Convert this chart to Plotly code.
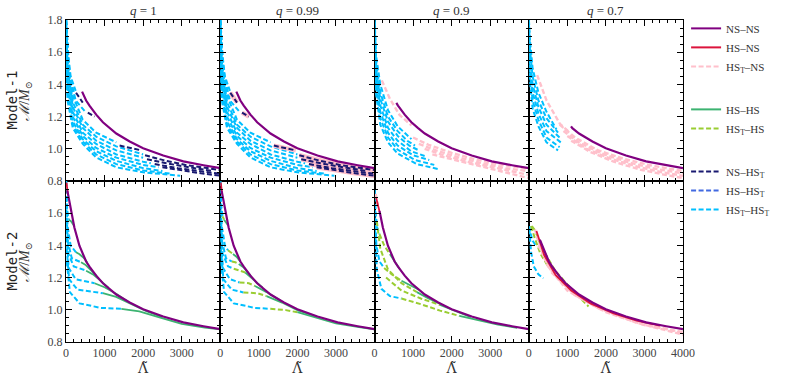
import plotly.graph_objects as go
from plotly.subplots import make_subplots

q_values = ["1", "0.99", "0.9", "0.7"]
row_names = ["Model-1", "Model-2"]
x_ticks = [0, 1000, 2000, 3000, 4000]
y_ticks = [0.8, 1.0, 1.2, 1.4, 1.6, 1.8]

# NS-NS (purple), same hadronic curve in every panel, cut at a start point
nsns_lam = [35, 70, 130, 217, 348, 417, 522, 609, 783, 957, 1131, 1304, 1652, 2000, 2522, 3043, 3565, 4000]
nsns_mc = [1.74, 1.70, 1.614, 1.511, 1.398, 1.355, 1.300, 1.268, 1.212, 1.165, 1.128, 1.095, 1.045, 1.004, 0.958, 0.922, 0.898, 0.880]
nsns_m1_start_lam = [417, 417, 566, 1096]
nsns_m1_start_mc = [1.355, 1.355, 1.285, 1.14]
nsns_m2_start_lam = [35, 35, 130, 288]
nsns_m2_start_mc = [1.74, 1.74, 1.614, 1.435]

# ---- Model-1, q = 1 (also used for q = 0.99) ----
m1_q1_hsths_lam = [[5, 50, 120, 250], [5, 80, 250, 500],
                   [5, 40, 175, 435, 783, 1305],
                   [5, 40, 175, 435, 783, 1305, 2000],
                   [5, 40, 175, 435, 783, 1305, 2000],
                   [5, 40, 175, 435, 783, 1305, 2000, 2200],
                   [5, 40, 175, 435, 783, 1305, 2000, 2400],
                   [5, 40, 175, 435, 783, 1305, 2000, 2500],
                   [5, 40, 175, 435, 783, 1305, 2000, 2700],
                   [5, 40, 175, 435, 783, 1305, 2000, 2960]]
m1_q1_hsths_mc = [[1.80, 1.60, 1.45, 1.36], [1.80, 1.48, 1.30, 1.23],
                  [1.80, 1.58, 1.33, 1.18, 1.10, 1.04],
                  [1.79, 1.54, 1.29, 1.15, 1.075, 1.015, 0.965],
                  [1.77, 1.50, 1.26, 1.13, 1.05, 0.99, 0.945],
                  [1.74, 1.46, 1.23, 1.10, 1.03, 0.965, 0.92, 0.91],
                  [1.71, 1.42, 1.20, 1.08, 1.005, 0.945, 0.90, 0.885],
                  [1.67, 1.38, 1.17, 1.06, 0.985, 0.925, 0.88, 0.862],
                  [1.63, 1.34, 1.15, 1.045, 0.965, 0.905, 0.865, 0.846],
                  [1.58, 1.30, 1.13, 1.03, 0.946, 0.885, 0.854, 0.833]]
m1_q1_nshst_lam = [[261, 350, 435], [565, 650, 740], [1390, 1650, 1960],
                   [2050, 2600, 3100, 3600, 4000], [2100, 2600, 3200, 3800],
                   [2300, 2900, 3500, 4000], [2500, 3000, 3500, 4000]]
m1_q1_nshst_mc = [[1.348, 1.315, 1.287], [1.225, 1.213, 1.20], [1.02, 1.005, 0.99],
                  [0.96, 0.925, 0.90, 0.88, 0.868], [0.935, 0.91, 0.885, 0.862],
                  [0.905, 0.88, 0.86, 0.845], [0.885, 0.865, 0.848, 0.833]]

# ---- Model-1, q = 0.9 ----
m1_q09_hsths_lam = [[5, 40, 150, 350, 600, 957],
                    [5, 40, 150, 350, 600, 850, 1050],
                    [5, 40, 150, 350, 600, 900, 1150],
                    [5, 40, 150, 350, 600, 950, 1300],
                    [5, 40, 150, 350, 600, 1000, 1420],
                    [5, 40, 150, 350, 600, 1050, 1550],
                    [5, 40, 150, 350, 600, 1100, 1650]]
m1_q09_hsths_mc = [[1.80, 1.58, 1.40, 1.24, 1.14, 1.06],
                   [1.79, 1.54, 1.35, 1.20, 1.11, 1.05, 1.02],
                   [1.77, 1.50, 1.31, 1.17, 1.08, 1.02, 0.99],
                   [1.74, 1.46, 1.27, 1.13, 1.05, 0.985, 0.955],
                   [1.71, 1.42, 1.23, 1.10, 1.02, 0.96, 0.93],
                   [1.67, 1.38, 1.19, 1.07, 0.995, 0.93, 0.90],
                   [1.63, 1.34, 1.15, 1.04, 0.97, 0.905, 0.874]]
m1_q09_hstns_lam = [[190, 400, 650, 960],
                    [1000, 1400, 2000, 2600, 3200, 4000],
                    [1150, 1600, 2200, 2800, 3400, 4000],
                    [1300, 1800, 2400, 3000, 3500, 4000],
                    [1500, 2000, 2600, 3200, 3600, 4000]]
m1_q09_hstns_mc = [[1.425, 1.31, 1.21, 1.145],
                   [1.07, 1.025, 0.975, 0.935, 0.905, 0.875],
                   [1.03, 0.99, 0.945, 0.91, 0.88, 0.86],
                   [1.0, 0.96, 0.92, 0.89, 0.862, 0.838],
                   [0.965, 0.935, 0.90, 0.865, 0.843, 0.818]]

# ---- Model-1, q = 0.7 ----
m1_q07_hsths_lam = [[5, 30, 100, 250, 460, 720],
                    [5, 30, 100, 250, 460, 760],
                    [5, 30, 100, 250, 460, 800],
                    [5, 30, 100, 250, 460, 830],
                    [5, 30, 100, 250, 460, 800],
                    [5, 30, 100, 250, 460, 760]]
m1_q07_hsths_mc = [[1.80, 1.68, 1.50, 1.35, 1.23, 1.12],
                   [1.78, 1.62, 1.45, 1.30, 1.19, 1.10],
                   [1.75, 1.57, 1.40, 1.26, 1.15, 1.07],
                   [1.71, 1.52, 1.35, 1.22, 1.11, 1.04],
                   [1.66, 1.47, 1.30, 1.18, 1.07, 1.01],
                   [1.60, 1.42, 1.25, 1.14, 1.04, 0.99]]
m1_q07_hstns_lam = [[218, 461, 809, 1070],
                    [800, 1200, 1800, 2500, 3200, 4000],
                    [900, 1300, 1900, 2600, 3300, 4000],
                    [1000, 1500, 2100, 2800, 3400, 4000],
                    [1100, 1600, 2200, 2900, 3500, 4000]]
m1_q07_hstns_mc = [[1.458, 1.30, 1.155, 1.10],
                   [1.15, 1.07, 0.99, 0.935, 0.895, 0.862],
                   [1.11, 1.04, 0.97, 0.915, 0.875, 0.848],
                   [1.08, 1.00, 0.94, 0.89, 0.857, 0.832],
                   [1.05, 0.98, 0.92, 0.87, 0.84, 0.818]]

# ---- Model-2, q = 1 ----
m2_q1_hsths_lam = [[8, 30, 70], [10, 40, 120, 260], [10, 50, 150, 390], [12, 60, 200, 522],
                   [15, 70, 250, 740], [18, 80, 300, 957], [20, 100, 350, 900, 1435]]
m2_q1_hsths_mc = [[1.80, 1.62, 1.56], [1.70, 1.52, 1.40, 1.357], [1.62, 1.42, 1.32, 1.295],
                  [1.55, 1.35, 1.27, 1.243], [1.45, 1.26, 1.19, 1.165], [1.38, 1.19, 1.125, 1.103],
                  [1.30, 1.11, 1.04, 1.012, 1.006]]
m2_q1_hshs_lam = [[70, 130, 200], [260, 350, 450, 550], [390, 500, 650, 800], [522, 700, 900, 1100],
                  [740, 1000, 1300, 1600], [957, 1300, 1700, 2100, 2500],
                  [1435, 1900, 2400, 3000, 3600, 4000]]
m2_q1_hshs_mc = [[1.56, 1.55, 1.525], [1.357, 1.345, 1.325, 1.295], [1.295, 1.28, 1.245, 1.208],
                 [1.243, 1.22, 1.18, 1.137], [1.165, 1.14, 1.10, 1.052],
                 [1.103, 1.08, 1.035, 0.99, 0.955], [1.006, 0.99, 0.955, 0.912, 0.89, 0.878]]
m2_q1_hsns_lam = [[15, 30, 45]]
m2_q1_hsns_mc = [[1.79, 1.75, 1.72]]

# ---- Model-2, q = 0.99 ----
m2_q099_hsths_lam = [[8, 30, 60], [10, 40, 120, 200], [10, 50, 150, 300], [12, 60, 200, 350],
                     [15, 70, 250, 500], [18, 80, 300, 600], [20, 100, 350, 900, 1300]]
m2_q099_hsths_mc = [[1.80, 1.64, 1.58], [1.70, 1.52, 1.40, 1.37], [1.62, 1.42, 1.32, 1.30],
                    [1.55, 1.35, 1.27, 1.255], [1.45, 1.26, 1.19, 1.17], [1.38, 1.19, 1.125, 1.108],
                    [1.30, 1.11, 1.04, 1.012, 1.006]]
m2_q099_hsths_hs_lam = [[60, 100], [200, 260, 330], [300, 390, 480], [350, 522, 650],
                        [500, 740, 900], [600, 957, 1200], [1300, 1700, 2000]]
m2_q099_hsths_hs_mc = [[1.58, 1.56], [1.37, 1.357, 1.347], [1.30, 1.295, 1.285], [1.255, 1.243, 1.232],
                       [1.17, 1.165, 1.148], [1.108, 1.103, 1.085], [1.006, 0.998, 0.985]]
m2_q099_hshs_lam = [[100, 150, 200], [330, 420, 520], [480, 600, 800], [650, 850, 1100],
                    [900, 1200, 1600], [1200, 1600, 2000, 2500], [2000, 2500, 3000, 3600, 4000]]
m2_q099_hshs_mc = [[1.56, 1.54, 1.525], [1.347, 1.33, 1.30], [1.285, 1.265, 1.208], [1.232, 1.19, 1.137],
                   [1.148, 1.11, 1.052], [1.085, 1.045, 0.998, 0.958], [0.985, 0.952, 0.915, 0.893, 0.879]]

# ---- Model-2, q = 0.9 ----
m2_q09_hsths_lam = [[8, 30, 70, 130], [10, 50, 130, 250], [15, 60, 180, 400, 700]]
m2_q09_hsths_mc = [[1.75, 1.60, 1.51, 1.47], [1.62, 1.40, 1.30, 1.26], [1.50, 1.25, 1.13, 1.085, 1.07]]
m2_q09_hsths_hs_lam = [[130, 250, 400], [250, 450, 700], [60, 150, 350, 700, 1100],
                       [300, 700, 1200, 1700], [700, 1200, 1700, 2200]]
m2_q09_hsths_hs_mc = [[1.47, 1.40, 1.345], [1.26, 1.22, 1.18], [1.55, 1.38, 1.25, 1.165, 1.11],
                      [1.20, 1.12, 1.07, 1.03], [1.07, 1.035, 0.995, 0.962]]
m2_q09_hshs_lam = [[400, 520, 650], [700, 900, 1150], [1100, 1400, 1700], [1700, 2100, 2500],
                   [2200, 2700, 3200, 3700]]
m2_q09_hshs_mc = [[1.345, 1.30, 1.255], [1.18, 1.155, 1.125], [1.11, 1.07, 1.038], [1.03, 0.99, 0.955],
                  [0.962, 0.935, 0.908, 0.888]]
m2_q09_hsns_lam = [[40, 80, 130]]
m2_q09_hsns_mc = [[1.70, 1.66, 1.61]]
m2_q09_hstns_lam = [[30, 60, 100]]
m2_q09_hstns_mc = [[1.72, 1.67, 1.63]]

# ---- Model-2, q = 0.7 ----
m2_q07_hsths_lam = [[15, 40, 100, 180], [15, 60, 130, 250, 380]]
m2_q07_hsths_mc = [[1.52, 1.48, 1.43, 1.40], [1.50, 1.36, 1.27, 1.22, 1.196]]
m2_q07_hsths_hs_lam = [[60, 150, 300, 500], [80, 160, 330, 680, 1120, 1550]]
m2_q07_hsths_hs_mc = [[1.52, 1.45, 1.35, 1.27], [1.52, 1.495, 1.39, 1.245, 1.124, 1.021]]
m2_q07_hsns_lam = [[200, 400, 700, 1100, 1600, 2200, 2800, 3400]]
m2_q07_hsns_mc = [[1.49, 1.34, 1.215, 1.12, 1.04, 0.978, 0.932, 0.902]]
m2_q07_hstns_lam = [[160, 400, 800, 1500, 2500, 4000], [200, 500, 1000, 1800, 2800, 4000],
                    [250, 600, 1200, 2000, 3000, 4000]]
m2_q07_hstns_mc = [[1.50, 1.32, 1.18, 1.05, 0.945, 0.855], [1.46, 1.27, 1.12, 1.01, 0.92, 0.845],
                   [1.40, 1.23, 1.09, 0.985, 0.905, 0.862]]

colors = {"nsns": "#800080", "hsns": "#dc143c", "hstns": "#ffc0cb", "hshs": "#3cb371",
          "hsths_hs": "#9acd32", "nshst": "#191970", "hshst": "#4169e1", "hsths": "#00bfff"}
DASH = "5px,2.5px"
FONT = "Liberation Serif, DejaVu Serif, serif"

# per panel: list of (kind, lam-lists, mc-lists) in drawing order
panels = {
    (1, 1): [("hsths", m1_q1_hsths_lam, m1_q1_hsths_mc), ("nshst", m1_q1_nshst_lam, m1_q1_nshst_mc)],
    (1, 2): [("hsths", m1_q1_hsths_lam, m1_q1_hsths_mc), ("hstns_halo", m1_q1_nshst_lam, m1_q1_nshst_mc),
             ("nshst", m1_q1_nshst_lam, m1_q1_nshst_mc)],
    (1, 3): [("hsths", m1_q09_hsths_lam, m1_q09_hsths_mc), ("hstns", m1_q09_hstns_lam, m1_q09_hstns_mc)],
    (1, 4): [("hsths", m1_q07_hsths_lam, m1_q07_hsths_mc), ("hstns", m1_q07_hstns_lam, m1_q07_hstns_mc)],
    (2, 1): [("hsths", m2_q1_hsths_lam, m2_q1_hsths_mc), ("hshs", m2_q1_hshs_lam, m2_q1_hshs_mc),
             ("hsns", m2_q1_hsns_lam, m2_q1_hsns_mc)],
    (2, 2): [("hsths", m2_q099_hsths_lam, m2_q099_hsths_mc),
             ("hsths_hs", m2_q099_hsths_hs_lam, m2_q099_hsths_hs_mc),
             ("hshs", m2_q099_hshs_lam, m2_q099_hshs_mc), ("hsns", m2_q1_hsns_lam, m2_q1_hsns_mc)],
    (2, 3): [("hsths", m2_q09_hsths_lam, m2_q09_hsths_mc), ("hsths_hs", m2_q09_hsths_hs_lam, m2_q09_hsths_hs_mc),
             ("hshs", m2_q09_hshs_lam, m2_q09_hshs_mc), ("hstns", m2_q09_hstns_lam, m2_q09_hstns_mc),
             ("hsns", m2_q09_hsns_lam, m2_q09_hsns_mc)],
    (2, 4): [("hsths", m2_q07_hsths_lam, m2_q07_hsths_mc), ("hsths_hs", m2_q07_hsths_hs_lam, m2_q07_hsths_hs_mc),
             ("hstns", m2_q07_hstns_lam, m2_q07_hstns_mc), ("hsns", m2_q07_hsns_lam, m2_q07_hsns_mc)],
}

fig = make_subplots(rows=2, cols=4, horizontal_spacing=0, vertical_spacing=0)

for (r, c), series in panels.items():
    for kind, lams, mcs in series:
        if kind == "hstns_halo":
            line = dict(color=colors["hstns"], width=4.5)
        elif kind in ("hshs", "hsns"):
            line = dict(color=colors[kind], width=1.8)
        else:
            line = dict(color=colors[kind], width=2 if kind != "hstns" else 2.4, dash=DASH)
        for lam, mc in zip(lams, mcs):
            fig.add_trace(go.Scatter(x=lam, y=mc, mode="lines", line=line, showlegend=False,
                                     hoverinfo="skip"), row=r, col=c)
    # NS-NS drawn last, on top
    if r == 1:
        s_lam, s_mc = nsns_m1_start_lam[c - 1], nsns_m1_start_mc[c - 1]
    else:
        s_lam, s_mc = nsns_m2_start_lam[c - 1], nsns_m2_start_mc[c - 1]
    xs = [s_lam] + [l for l in nsns_lam if l > s_lam]
    ys = [s_mc] + [m for l, m in zip(nsns_lam, nsns_mc) if l > s_lam]
    fig.add_trace(go.Scatter(x=xs, y=ys, mode="lines", line=dict(color=colors["nsns"], width=2.2),
                             showlegend=False, hoverinfo="skip"), row=r, col=c)

# legend entries
legend_items = [("NS–NS", "nsns", "solid", "a"), ("HS–NS", "hsns", "solid", "a"),
                ("HS<sub>T</sub>–NS", "hstns", DASH, "a"),
                ("HS–HS", "hshs", "solid", "b"), ("HS<sub>T</sub>–HS", "hsths_hs", DASH, "b"),
                ("NS–HS<sub>T</sub>", "nshst", DASH, "c"), ("HS–HS<sub>T</sub>", "hshst", DASH, "c"),
                ("HS<sub>T</sub>–HS<sub>T</sub>", "hsths", DASH, "c")]
for name, key, dash, grp in legend_items:
    fig.add_trace(go.Scatter(x=[None], y=[None], mode="lines", name=name, legendgroup=grp,
                             line=dict(color=colors[key], width=2, dash=dash)), row=1, col=1)

tick_font = dict(family=FONT, size=12, color="#444")
for r in (1, 2):
    for c in range(1, 5):
        xv = x_ticks if c == 4 else x_ticks[:-1]
        yv = y_ticks if r == 1 else y_ticks[:-1]
        fig.update_xaxes(range=[0, 4000], tickvals=xv, ticktext=[str(v) for v in xv],
                         showticklabels=(r == 2),
                         ticks="inside", ticklen=6, tickwidth=1, tickcolor="black",
                         minor=dict(dtick=200, ticks="inside", ticklen=3, tickcolor="black"),
                         showline=True, linecolor="black", linewidth=1, mirror="ticks",
                         showgrid=False, zeroline=False, tickfont=tick_font, row=r, col=c)
        fig.update_yaxes(range=[0.8, 1.8], tickvals=yv, ticktext=["%.1f" % v for v in yv],
                         showticklabels=(c == 1),
                         ticks="inside", ticklen=6, tickwidth=1, tickcolor="black",
                         minor=dict(dtick=0.05, ticks="inside", ticklen=3, tickcolor="black"),
                         showline=True, linecolor="black", linewidth=1, mirror="ticks",
                         showgrid=False, zeroline=False, tickfont=tick_font, row=r, col=c)
for c in range(1, 5):
    fig.update_xaxes(title_text="Λ̃", title_font=dict(family="DejaVu Serif, serif", size=14, color="#333"),
                     title_standoff=2, row=2, col=c)

annotations = []
for c, q in enumerate(q_values, start=1):
    ax = "x" if c == 1 else "x%d" % c
    annotations.append(dict(text="<i>q</i> = " + q, xref=ax + " domain", yref="paper", x=0.5, y=1,
                            yanchor="bottom", yshift=0, showarrow=False,
                            font=dict(family=FONT, size=13, color="#333")))
for r, name in enumerate(row_names, start=1):
    ya = "y" if r == 1 else "y5"
    annotations.append(dict(text=name, xref="paper", yref=ya + " domain", x=-0.089, y=0.5,
                            xanchor="center", yanchor="middle", textangle=-90, showarrow=False,
                            font=dict(family="DejaVu Sans Mono, monospace", size=14, color="#222")))
    annotations.append(dict(text="<i>ℳ</i>/<i>M</i><sub>⊙</sub>", xref="paper", yref=ya + " domain",
                            x=-0.066, y=0.5, xanchor="center", yanchor="middle", textangle=-90,
                            showarrow=False, font=dict(family=FONT, size=14, color="#333")))

fig.update_layout(
    width=789, height=379, margin=dict(l=66, r=106, t=20, b=37, autoexpand=False),
    paper_bgcolor="white", plot_bgcolor="white",
    annotations=annotations,
    legend=dict(x=1.005, y=1.019, xanchor="left", yanchor="top", traceorder="grouped",
                tracegroupgap=24, itemwidth=30, maxheight=320,
                font=dict(family=FONT, size=11, color="#333"),
                bgcolor="rgba(0,0,0,0)"),
)

# drop the page's default 8px body margin so the figure sits at the window corner
fig.write_html("out.html", config={"displayModeBar": False},
               post_script="document.body.style.margin='0';")
